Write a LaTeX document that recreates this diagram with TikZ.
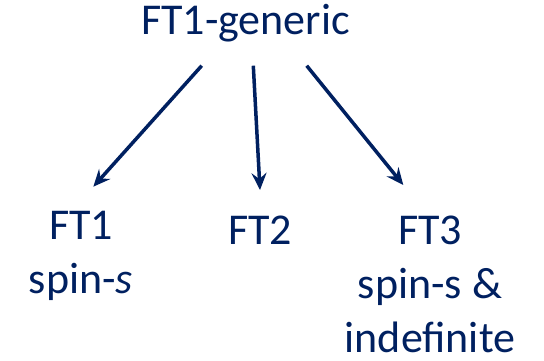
\documentclass[tikz,border=0pt]{standalone}
\usepackage{fontspec}
\setmainfont{Carlito}
\usetikzlibrary{arrows.meta}
\definecolor{navy}{RGB}{0,32,96}
\tikzset{
  lbl/.style={text=navy, inner sep=0pt, align=center, font=\fontsize{44}{54}\selectfont},
  arr/.style={draw=navy, line width=3.5pt, -{Stealth[length=17pt,width=15pt,inset=6pt]}}
}
\begin{document}
\begin{tikzpicture}[x=1pt,y=-1pt]
\useasboundingbox (0,0) rectangle (544,361);
\node[lbl, anchor=base] (top) at (245.5,35) {FT1-generic};
\node[lbl, anchor=base] (ft1) at (81,293) {FT1\\spin-\textit{s}};
\node[lbl, anchor=base] (ft2) at (260,244) {FT2};
\node[lbl, anchor=base] (ft3) at (430,352) {FT3\\spin-s \&\\indefinite};
\coordinate (s1) at (201.7,65.7);
\coordinate (s2) at (253.3,65.7);
\coordinate (s3) at (306.7,65.7);
\coordinate (e1) at (93.3,186.7);
\coordinate (e2) at (260,190);
\coordinate (e3) at (403.3,185);
\draw[arr] (s1) -- (e1);
\draw[arr] (s2) -- (e2);
\draw[arr] (s3) -- (e3);
\end{tikzpicture}
\end{document}
